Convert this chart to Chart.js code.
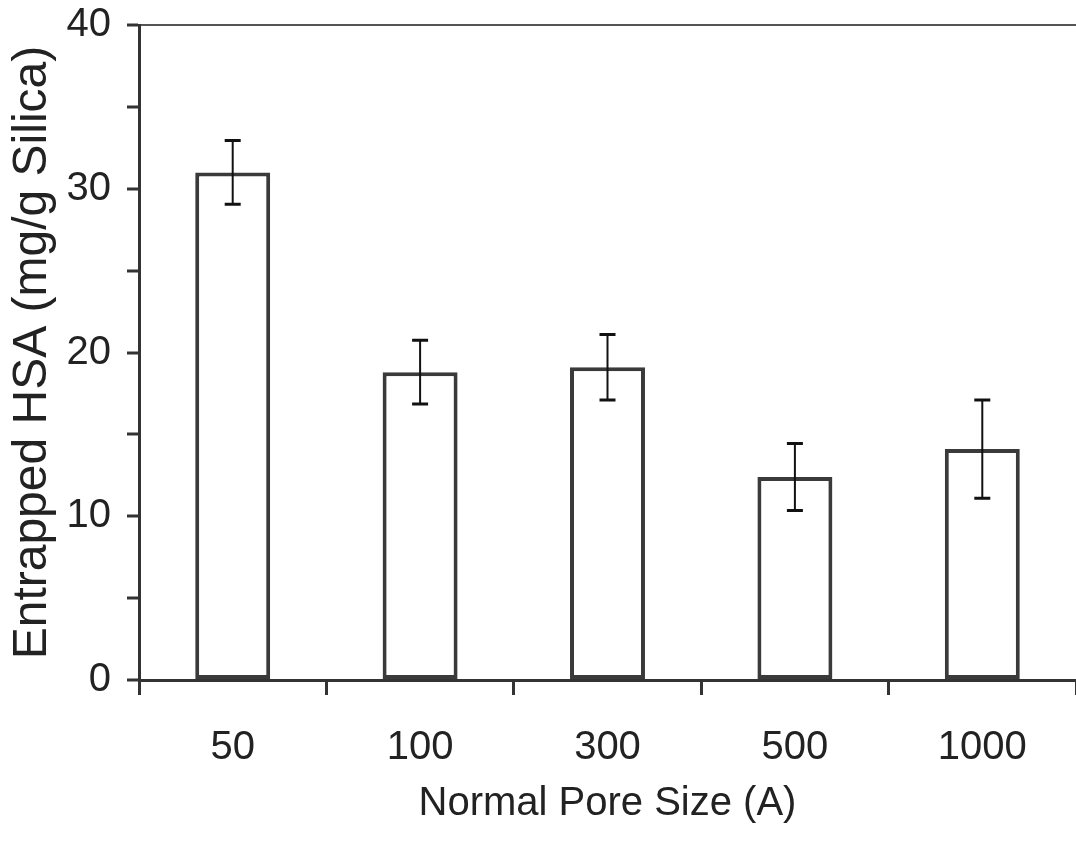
<!DOCTYPE html>
<html>
<head>
<meta charset="utf-8">
<script src="https://cdn.jsdelivr.net/npm/chart.js@4"></script>
<style>
  html, body { margin: 0; padding: 0; background: #fff; }
  #wrap { width: 1076px; height: 844px; }
</style>
</head>
<body>
<div id="wrap"><canvas id="chart" width="1076" height="844"></canvas></div>
<script>
const poreSizes = ['50', '100', '300', '500', '1000'];
const entrappedHSA = [31.0, 18.8, 19.1, 12.4, 14.1];
const errorValues = [1.95, 1.95, 2.0, 2.05, 3.0];
const yTickLabels = [0, 10, 20, 30, 40];

const FONT = "'Liberation Sans', Arial, sans-serif";

// draws the +/- error whiskers on top of each bar
const errorBarPlugin = {
    id: 'errorBars',
    afterDatasetsDraw(chart) {
        const ctx = chart.ctx;
        const yScale = chart.scales.y;
        const meta = chart.getDatasetMeta(0);
        ctx.save();
        ctx.strokeStyle = '#111';
        meta.data.forEach((bar, i) => {
            const x = bar.x;
            const top = yScale.getPixelForValue(entrappedHSA[i] + errorValues[i]);
            const bottom = yScale.getPixelForValue(entrappedHSA[i] - errorValues[i]);
            ctx.lineWidth = 2;
            ctx.beginPath();
            ctx.moveTo(x, top);
            ctx.lineTo(x, bottom);
            ctx.stroke();
            ctx.lineWidth = 3;
            ctx.beginPath();
            ctx.moveTo(x - 8, top);
            ctx.lineTo(x + 8, top);
            ctx.moveTo(x - 8, bottom);
            ctx.lineTo(x + 8, bottom);
            ctx.stroke();
        });
        ctx.restore();
    }
};

const ctx = document.getElementById('chart').getContext('2d');
new Chart(ctx, {
    type: 'bar',
    data: {
        labels: poreSizes,
        datasets: [{
            data: entrappedHSA,
            backgroundColor: '#ffffff',
            borderColor: '#3a3a3a',
            borderWidth: 4,
            borderSkipped: false,
            barPercentage: 0.4,
            categoryPercentage: 1.0
        }]
    },
    options: {
        responsive: false,
        animation: false,
        layout: { padding: { top: 25, right: 0, left: 0, bottom: 0 } },
        plugins: {
            legend: { display: false },
            tooltip: { enabled: false }
        },
        scales: {
            x: {
                offset: true,
                grid: {
                    offset: true,
                    drawOnChartArea: false,
                    tickLength: 15,
                    tickColor: '#333',
                    lineWidth: 3
                },
                border: { display: true, color: '#333', width: 3 },
                ticks: {
                    color: '#222',
                    padding: 29,
                    font: { family: FONT, size: 40 }
                },
                title: {
                    display: true,
                    text: 'Normal Pore Size (A)',
                    color: '#222',
                    padding: { top: 2, bottom: 16 },
                    font: { family: FONT, size: 40 }
                },
                afterFit: (scale) => {
                    scale.height = 164;
                    scale.paddingLeft = 0;
                    scale.paddingRight = 0;
                }
            },
            y: {
                min: 0,
                max: 40,
                ticks: {
                    stepSize: 5,
                    color: '#222',
                    padding: 16,
                    font: { family: FONT, size: 40 },
                    callback: (v) => yTickLabels.includes(v) ? v : ''
                },
                grid: {
                    drawOnChartArea: true,
                    color: (c) => c.tick && c.tick.value === 40 ? '#555' : 'rgba(0,0,0,0)',
                    lineWidth: 2,
                    tickLength: 12,
                    tickColor: '#333',
                    tickWidth: 3
                },
                border: { display: true, color: '#333', width: 3 },
                title: {
                    display: true,
                    text: 'Entrapped HSA (mg/g Silica)',
                    color: '#222',
                    padding: { bottom: 8 },
                    font: { family: FONT, size: 48 }
                },
                afterFit: (scale) => {
                    scale.width = 139;
                    scale.paddingTop = 0;
                    scale.paddingBottom = 0;
                }
            }
        }
    },
    plugins: [errorBarPlugin]
});
</script>
</body>
</html>
